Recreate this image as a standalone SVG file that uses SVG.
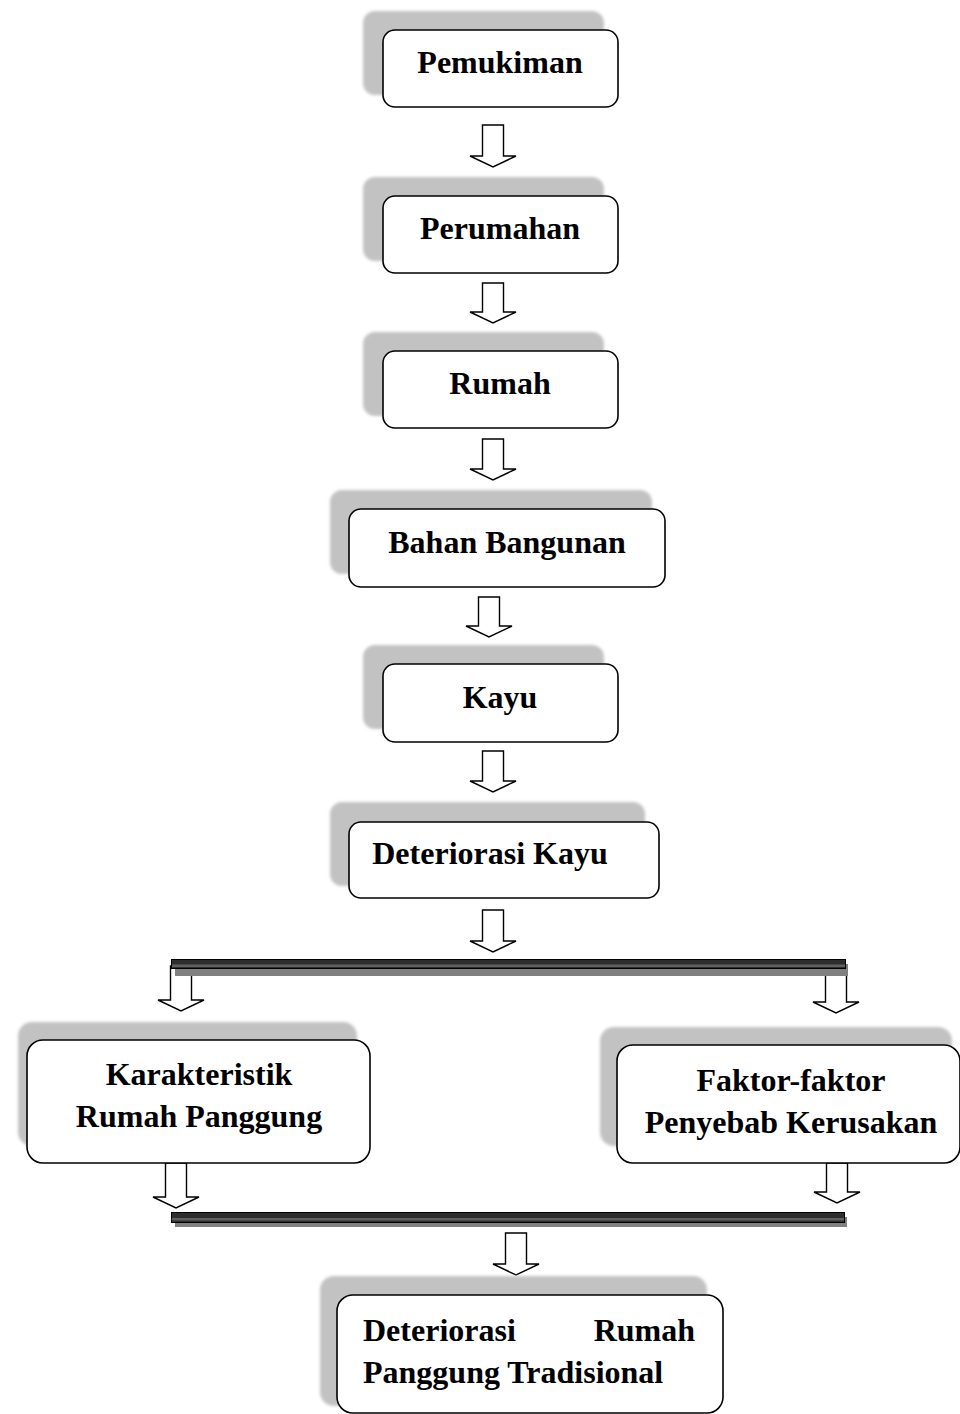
<svg xmlns="http://www.w3.org/2000/svg" width="960" height="1414" viewBox="0 0 960 1414">
<defs>
<filter id="soft" x="-5%" y="-5%" width="110%" height="110%"><feGaussianBlur stdDeviation="1.6"/></filter>
</defs>
<style>
.sh{fill:#c2c2c2;filter:url(#soft)}
.bx{fill:#fff;stroke:#000;stroke-width:1.6}
.t{font-family:"Liberation Serif","Times New Roman",serif;font-weight:bold;font-size:32px;fill:#000}
.c{text-anchor:middle}
.ar{fill:#fff;stroke:#000;stroke-width:1.4;stroke-linejoin:miter}
.barS{fill:#808080}
.bar{fill:#2e2e2e;stroke:#000;stroke-width:1}
.barL{fill:#606060}
</style>
<rect width="960" height="1414" fill="#fff"/>

<g id="connectors">
<path class="ar" d="M482.5,125 H503.5 V156 H516 L493,167 L470,156 H482.5 Z"/>
<path class="ar" d="M482.5,283 H503.5 V312 H516 L493,323 L470,312 H482.5 Z"/>
<path class="ar" d="M482.5,439 H503.5 V469 H516 L493,480 L470,469 H482.5 Z"/>
<path class="ar" d="M478.5,597 H499.5 V626 H512 L489,637 L466,626 H478.5 Z"/>
<path class="ar" d="M482.5,751 H503.5 V781 H516 L493,792 L470,781 H482.5 Z"/>
<path class="ar" d="M482.5,910 H503.5 V941 H516 L493,952 L470,941 H482.5 Z"/>
<path class="ar" d="M170.5,966 H191.5 V1000 H204 L181,1011 L158,1000 H170.5 Z"/>
<path class="ar" d="M825.5,966 H846.5 V1002 H859 L836,1013 L813,1002 H825.5 Z"/>
<path class="ar" d="M165.5,1163 H186.5 V1197 H199 L176,1208 L153,1197 H165.5 Z"/>
<path class="ar" d="M826.5,1163 H847.5 V1192 H860 L837,1203 L814,1192 H826.5 Z"/>
<path class="ar" d="M505.5,1233 H526.5 V1264 H539 L516,1275 L493,1264 H505.5 Z"/>
<g id="bar-top">
<rect class="barS" x="175" y="964" width="673" height="12"/>
<rect class="bar" x="171.5" y="959.5" width="674" height="9"/>
<rect class="barL" x="172" y="964.5" width="673" height="2.5"/>
</g>
<g id="bar-bottom">
<rect class="barS" x="175" y="1217" width="672" height="10"/>
<rect class="bar" x="171.5" y="1212.5" width="673" height="10"/>
<rect class="barL" x="172" y="1218" width="672" height="2.5"/>
</g>
</g>

<g id="n-pemukiman">
<rect class="sh" x="363" y="11" width="241" height="84" rx="12"/>
<rect class="bx" x="383" y="30" width="235" height="77" rx="12"/>
<text class="t c" x="500" y="73">Pemukiman</text>
</g>
<g id="n-perumahan">
<rect class="sh" x="363" y="177" width="241" height="84" rx="12"/>
<rect class="bx" x="383" y="196" width="235" height="77" rx="12"/>
<text class="t c" x="500" y="239">Perumahan</text>
</g>
<g id="n-rumah">
<rect class="sh" x="363" y="332" width="241" height="84" rx="12"/>
<rect class="bx" x="383" y="351" width="235" height="77" rx="12"/>
<text class="t c" x="500" y="394">Rumah</text>
</g>
<g id="n-bahan">
<rect class="sh" x="330" y="490" width="322" height="84" rx="12"/>
<rect class="bx" x="349" y="509" width="316" height="78" rx="12"/>
<text class="t c" x="507" y="553">Bahan Bangunan</text>
</g>
<g id="n-kayu">
<rect class="sh" x="363" y="645" width="241" height="84" rx="12"/>
<rect class="bx" x="383" y="664" width="235" height="78" rx="12"/>
<text class="t c" x="500" y="708">Kayu</text>
</g>
<g id="n-deteriorasi-kayu">
<rect class="sh" x="330" y="802" width="315" height="84" rx="12"/>
<rect class="bx" x="349" y="822" width="310" height="76" rx="12"/>
<text class="t c" x="490" y="864">Deteriorasi Kayu</text>
</g>
<g id="n-karakteristik">
<rect class="sh" x="18" y="1022" width="339" height="124" rx="14"/>
<rect class="bx" x="27" y="1040" width="343" height="123" rx="16"/>
<text class="t c" x="199" y="1085">Karakteristik</text>
<text class="t c" x="199" y="1127">Rumah Panggung</text>
</g>
<g id="n-faktor">
<rect class="sh" x="600" y="1027" width="352" height="119" rx="14"/>
<rect class="bx" x="617" y="1045" width="343" height="118" rx="16"/>
<text class="t c" x="791" y="1091">Faktor-faktor</text>
<text class="t c" x="791" y="1133">Penyebab Kerusakan</text>
</g>
<g id="n-deteriorasi-rumah">
<rect class="sh" x="320" y="1276" width="387" height="130" rx="14"/>
<rect class="bx" x="337" y="1295" width="386" height="118" rx="16"/>
<text class="t" x="363" y="1341">Deteriorasi</text>
<text class="t" x="695" y="1341" text-anchor="end">Rumah</text>
<text class="t" x="363" y="1383">Panggung Tradisional</text>
</g>
</svg>
